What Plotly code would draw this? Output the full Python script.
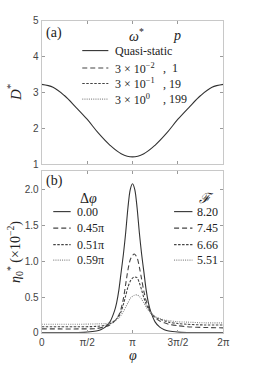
import numpy as np
import plotly.graph_objects as go

# ---------------- data ----------------
# panel (a): quasi-static D* vs phi (phi in units of pi)
phi_a = [0, 0.125, 0.25, 0.375, 0.5, 0.625, 0.75, 0.875, 1.0,
         1.125, 1.25, 1.375, 1.5, 1.625, 1.75, 1.875, 2.0]
D_qs = [3.22, 3.14, 2.91, 2.59, 2.25, 1.86, 1.53, 1.29, 1.20,
        1.29, 1.53, 1.86, 2.25, 2.59, 2.91, 3.14, 3.22]

legend_a_omega = ["Quasi-static", "3 × 10<sup>−2</sup>", "3 × 10<sup>−1</sup>", "3 × 10<sup>0</sup>"]
legend_a_p = ["", ",  1", ", 19", ", 199"]

# panel (b): eta0* (x1e-2) vs phi (units of pi)
phi_s = [0, 0.2, 0.4, 0.5, 0.6, 0.65, 0.7, 0.75, 0.8, 0.825, 0.85, 0.875, 0.9, 0.925, 0.95, 0.975,
         1.0, 1.025, 1.05, 1.075, 1.1, 1.125, 1.15, 1.175, 1.2, 1.25, 1.3, 1.35, 1.4, 1.5, 1.6, 1.8, 2.0]
eta_000 = [0.003, 0.003, 0.005, 0.01, 0.025, 0.045, 0.08, 0.15, 0.30, 0.42, 0.60, 0.85, 1.10, 1.40, 1.75, 2.00,
           2.08, 2.00, 1.75, 1.40, 1.10, 0.85, 0.60, 0.42, 0.30, 0.15, 0.08, 0.045, 0.025, 0.01, 0.005, 0.003, 0.003]

phi_d = [0, 0.2, 0.4, 0.6, 0.7, 0.75, 0.8, 0.85, 0.875, 0.9, 0.925, 0.95, 0.975, 1.0, 1.02, 1.05,
         1.075, 1.1, 1.125, 1.15, 1.2, 1.25, 1.3, 1.35, 1.4, 1.5, 1.6, 1.8, 2.0]
eta_045 = [0.055, 0.055, 0.055, 0.06, 0.085, 0.11, 0.16, 0.25, 0.34, 0.48, 0.68, 0.88, 1.02, 1.08, 1.10, 1.05,
           0.92, 0.75, 0.58, 0.45, 0.29, 0.21, 0.165, 0.14, 0.12, 0.10, 0.085, 0.075, 0.07]
eta_051 = [0.085, 0.085, 0.085, 0.09, 0.105, 0.125, 0.165, 0.235, 0.30, 0.40, 0.52, 0.64, 0.72, 0.765, 0.78, 0.77,
           0.70, 0.60, 0.49, 0.40, 0.28, 0.22, 0.19, 0.17, 0.15, 0.13, 0.12, 0.11, 0.11]
eta_059 = [0.12, 0.12, 0.12, 0.125, 0.13, 0.14, 0.165, 0.21, 0.25, 0.30, 0.36, 0.42, 0.48, 0.51, 0.525, 0.53,
           0.51, 0.47, 0.42, 0.36, 0.28, 0.225, 0.20, 0.18, 0.17, 0.155, 0.15, 0.14, 0.14]

dphi_labels = ["0.00", "0.45π", "0.51π", "0.59π"]
F_labels = ["8.20", "7.45", "6.66", "5.51"]

xtick_vals = [0, 0.5, 1.0, 1.5, 2.0]
xtick_text = ["0", "π/2", "π", "3π/2", "2π"]

# ---------------- style ----------------
W, H = 269, 367
SERIF = "Liberation Serif"
SANS = "Liberation Sans"
styles = [
    dict(color="#333333", width=1.1, dash="solid"),
    dict(color="#444444", width=1.1, dash="5px,3px"),
    dict(color="#444444", width=1.1, dash="2.5px,1.5px"),
    dict(color="#888888", width=1.1, dash="1px,1.2px"),
]

def px2x(p):
    return p / W

def px2y(p):
    return 1 - p / H

fig = go.Figure()

# panel a
fig.add_trace(go.Scatter(x=np.array(phi_a) * np.pi, y=D_qs, mode="lines",
                         line=dict(shape="spline", smoothing=1.0, **styles[0]),
                         xaxis="x", yaxis="y", showlegend=False))

# panel b
for xs, ys, st in [(phi_s, eta_000, styles[0]), (phi_d, eta_045, styles[1]),
                   (phi_d, eta_051, styles[2]), (phi_d, eta_059, styles[3])]:
    fig.add_trace(go.Scatter(x=np.array(xs) * np.pi, y=ys, mode="lines",
                             line=dict(shape="spline", smoothing=0.8, **st),
                             xaxis="x2", yaxis="y2", showlegend=False))

axcommon = dict(showline=True, linecolor="#c8c8c8", linewidth=1, mirror="ticks",
                ticks="inside", ticklen=3, tickcolor="#9a9a9a", showgrid=False, zeroline=False,
                tickfont=dict(family=SANS, size=10, color="#444444"))

xa_dom = [px2x(40), px2x(228)]
fig.update_layout(
    width=W, height=H, margin=dict(l=0, r=0, t=0, b=0),
    paper_bgcolor="white", plot_bgcolor="white",
    xaxis=dict(domain=xa_dom, anchor="y", range=[0, 2 * np.pi],
               tickvals=[v * np.pi for v in xtick_vals], showticklabels=False, **axcommon),
    yaxis=dict(domain=[px2y(164), px2y(16)], anchor="x", range=[1, 5],
               tickvals=[1, 2, 3, 4, 5], **axcommon),
    xaxis2=dict(domain=xa_dom, anchor="y2", range=[0, 2 * np.pi],
                tickvals=[v * np.pi for v in xtick_vals], ticktext=xtick_text, **axcommon),
    yaxis2=dict(domain=[px2y(338), px2y(171)], anchor="x2", range=[0, 2.26],
                tickvals=[0, 0.5, 1.0, 1.5, 2.0], ticktext=["0", "0.5", "1.0", "1.5", "2.0"], **axcommon),
)

ann = []
shapes = []

def text(x, y, s, size=13, xanchor="left", angle=0, family=SERIF):
    ann.append(dict(x=px2x(x), y=px2y(y), xref="paper", yref="paper", text=s, showarrow=False,
                    xanchor=xanchor, yanchor="middle", textangle=angle,
                    font=dict(family=family, size=size, color="#222222")))

def sample(x0, x1, y, st):
    shapes.append(dict(type="line", xref="paper", yref="paper", x0=px2x(x0), x1=px2x(x1),
                       y0=px2y(y), y1=px2y(y), line=st))

# panel labels
text(42, 29, "(a)", size=14)
text(42, 181, "(b)", size=14)

# legend a
text(138, 31, "<i>ω</i><sup>*</sup>", size=14, xanchor="center")
text(180, 31, "<i>p</i>", size=14, xanchor="center")
rows_a = [47, 65, 81, 97]
for i, yy in enumerate(rows_a):
    sample(82, 109, yy, styles[i])
    text(114, yy, legend_a_omega[i], size=12)
    if legend_a_p[i]:
        text(163, yy, legend_a_p[i], size=12)

# legend b
text(88, 199, "Δ<i>φ</i>", size=14, xanchor="center")
text(211, 199, "<i>ℱ</i>", size=14, xanchor="center")
rows_b = [213, 230, 247, 263]
for i, yy in enumerate(rows_b):
    sample(52, 70, yy, styles[i])
    text(74, yy, dphi_labels[i], size=12)
    sample(177, 196, yy, styles[i])
    text(199, yy, F_labels[i], size=12)

# axis titles
text(12, 90, "<i>D</i><sup>*</sup>", size=15, xanchor="center", angle=-90)
text(13, 255, "<i>η</i><sub>0</sub><sup>*</sup> (×10<sup>−2</sup>)", size=14, xanchor="center", angle=-90)
text(134, 361, "<i>φ</i>", size=14, xanchor="center")

fig.update_layout(annotations=ann, shapes=shapes)
fig.write_html("out.html")
